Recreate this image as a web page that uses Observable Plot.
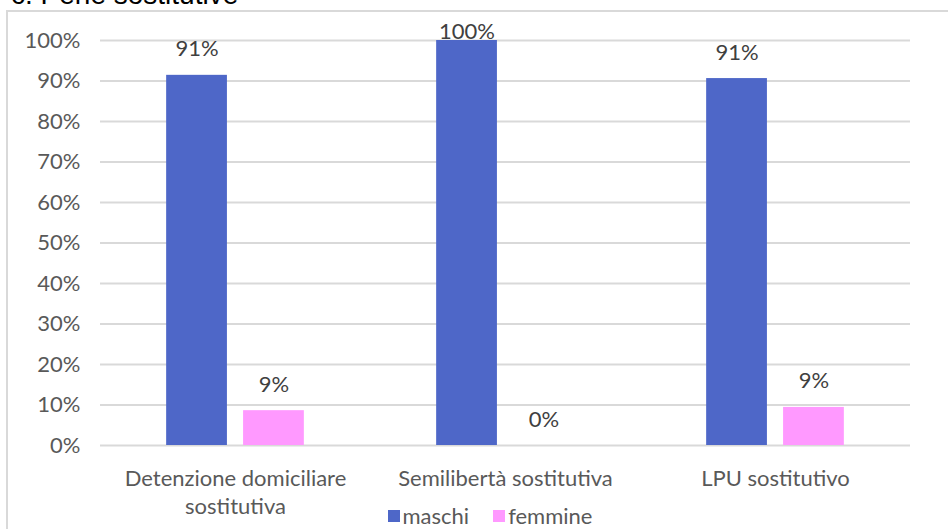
<!DOCTYPE html>
<html>
<head>
<meta charset="utf-8">
<script src="https://cdn.jsdelivr.net/npm/d3@7"></script>
<script src="https://cdn.jsdelivr.net/npm/@observablehq/plot@0.6"></script>
<style>
  html, body { margin: 0; padding: 0; background: #fff; overflow: hidden; }
  #wrap { position: relative; width: 948px; height: 529px; overflow: hidden; }
  #title { position: absolute; left: 11px; top: -19px; font: 28px "Liberation Sans", Arial, sans-serif; line-height: 28px; color: #000; white-space: nowrap; }
  #frame { position: absolute; left: 6px; top: 10px; width: 1000px; height: 600px; border: 2px solid #d9d9d9; box-sizing: border-box; pointer-events: none; }
  #chart { position: absolute; left: 0; top: 0; }
  #legend { position: absolute; top: 505px; left: 0; width: 980px; display: flex; justify-content: center; font: 22px Lato, sans-serif; color: #595959; line-height: 22px; }
  #legend span.item { display: inline-flex; align-items: center; margin: 0 12px; }
  #legend span.sw { display: inline-block; width: 12px; height: 12px; margin-right: 3px; }
</style>
</head>
<body>
<div id="wrap">
  <div id="title"></div>
  <div id="frame"></div>
  <div id="chart"></div>
  <div id="legend"></div>
</div>
<script>
const titleText = "c. Pene sostitutive";
const categories = ["Detenzione domiciliare sostitutiva", "Semilibertà sostitutiva", "LPU sostitutivo"];
const categoryLabels = ["Detenzione domiciliare\nsostitutiva", "Semilibertà sostitutiva", "LPU sostitutivo"];
const series = ["maschi", "femmine"];
const maschi = [0.914, 1.0, 0.906];
const femmine = [0.086, 0.0, 0.094];
const yTicks = [0, 0.1, 0.2, 0.3, 0.4, 0.5, 0.6, 0.7, 0.8, 0.9, 1.0];
const yTickLabels = ["0%", "10%", "20%", "30%", "40%", "50%", "60%", "70%", "80%", "90%", "100%"];
const colors = ["#4e67c8", "#ff99ff"];

document.getElementById("title").textContent = titleText;

const data = [];
categories.forEach((c, i) => {
  data.push({category: c, sex: "maschi", value: maschi[i]});
  data.push({category: c, sex: "femmine", value: femmine[i]});
});
const fmt = v => Math.round(v * 100) + "%";

const chart = Plot.plot({
  width: 948,
  height: 529,
  marginLeft: 100,
  marginRight: 38,
  marginTop: 40,
  marginBottom: 84,
  style: {background: "transparent", fontFamily: "Lato, sans-serif"},
  fx: {domain: categories, padding: 0, label: null},
  x: {domain: series, paddingInner: 0.21, paddingOuter: 0.86, axis: null, round: false},
  y: {domain: [0, 1], axis: null},
  color: {domain: series, range: colors},
  marks: [
    Plot.gridY(yTicks, {stroke: "#d9d9d9", strokeOpacity: 1, strokeWidth: 2}),
    Plot.axisY(yTicks, {
      tickSize: 0, tickPadding: 20, fontSize: 22, fill: "#595959",
      tickFormat: v => yTickLabels[yTicks.indexOf(v)], label: null
    }),
    Plot.barY(data, {fx: "category", x: "sex", y: "value", fill: "sex"}),
    Plot.text(data.filter(d => d.value < 0.99), {
      fx: "category", x: "sex", y: "value", text: d => fmt(d.value),
      dy: -26, fontSize: 22, fill: "#404040"
    }),
    Plot.text(data.filter(d => d.value >= 0.99), {
      fx: "category", x: "sex", y: "value", text: d => fmt(d.value),
      dy: -9, fontSize: 22, fill: "#404040"
    }),
    Plot.axisFx({
      anchor: "bottom",
      tickSize: 0, tickPadding: 20, fontSize: 22, fill: "#595959", lineHeight: 1.3,
      tickFormat: c => categoryLabels[categories.indexOf(c)], label: null
    })
  ]
});
document.getElementById("chart").appendChild(chart);

const legend = document.getElementById("legend");
series.forEach((s, i) => {
  const item = document.createElement("span");
  item.className = "item";
  const sw = document.createElement("span");
  sw.className = "sw";
  sw.style.background = colors[i];
  item.appendChild(sw);
  item.appendChild(document.createTextNode(s));
  legend.appendChild(item);
});
</script>
</body>
</html>
